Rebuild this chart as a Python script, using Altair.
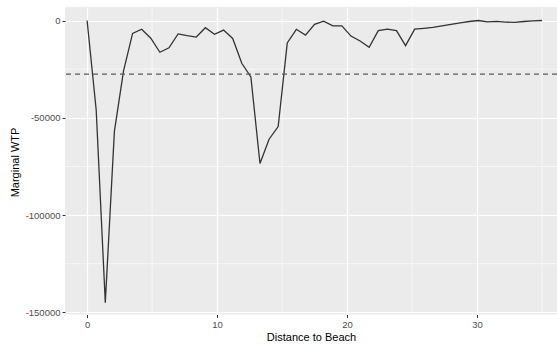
import altair as alt
import pandas as pd

distance = [round(i * 0.7, 1) for i in range(51)]
wtp = [0, -46000, -145000, -57000, -26000, -6600, -4500, -9100, -16300, -14000,
       -6900, -7800, -8500, -3700, -7100, -4900, -9200, -22000, -29000, -73500,
       -61000, -54500, -11500, -4500, -7500, -2000, -300, -2700, -2700, -8000,
       -10500, -13800, -5200, -4400, -5200, -12900, -4400, -4000, -3500, -2700,
       -2000, -1200, -500, 0, -700, -400, -800, -1000, -500, -200, 0]
mean_wtp = [-27500]
x_minor = [5, 15, 25, 35]
y_minor = [-25000, -75000, -125000]
x_major = [0, 10, 20, 30]
y_major = [0, -50000, -100000, -150000]

df = pd.DataFrame({"d": distance, "w": wtp})

xs = alt.Scale(domain=[-1.7, 36.15], nice=False, zero=False)
ys = alt.Scale(domain=[-151100, 6950], nice=False, zero=False)

minor_x = alt.Chart(pd.DataFrame({"v": x_minor})).mark_rule(color="white", strokeWidth=0.6).encode(
    x=alt.X("v:Q", scale=xs))
minor_y = alt.Chart(pd.DataFrame({"v": y_minor})).mark_rule(color="white", strokeWidth=0.6).encode(
    y=alt.Y("v:Q", scale=ys))

line = alt.Chart(df).mark_line(color="#333333", strokeWidth=1.3).encode(
    x=alt.X("d:Q", scale=xs, title="Distance to Beach",
            axis=alt.Axis(values=x_major, grid=True, gridColor="white", gridWidth=1.2,
                          tickColor="#333333", tickSize=3, tickWidth=1, domain=False,
                          labelColor="#4D4D4D", labelFontSize=9.5, labelPadding=2,
                          labelFont="Liberation Sans", titleFont="Liberation Sans",
                          titleFontSize=11, titleFontWeight="normal", titleColor="black",
                          titleY=22.5, titleBaseline="middle")),
    y=alt.Y("w:Q", scale=ys, title="Marginal WTP",
            axis=alt.Axis(values=y_major, grid=True, gridColor="white", gridWidth=1.2,
                          tickColor="#333333", tickSize=3, tickWidth=1, domain=False,
                          labelColor="#4D4D4D", labelFontSize=9.5, labelPadding=2,
                          labelExpr="'' + datum.value",
                          labelFont="Liberation Sans", titleFont="Liberation Sans",
                          titleFontSize=11, titleFontWeight="normal", titleColor="black",
                          titleX=-50, titleY=155, titleAngle=270, titleBaseline="middle",
                          titleAlign="center")),
)

hline = alt.Chart(pd.DataFrame({"m": mean_wtp})).mark_rule(
    color="#5a5a5a", strokeWidth=1.3, strokeDash=[5, 4]).encode(y=alt.Y("m:Q", scale=ys))

chart = alt.layer(minor_x, minor_y, line, hline).properties(
    width=492, height=307.5,
    autosize=alt.AutoSizeParams(type="none"),
    padding={"left": 65, "top": 7, "right": 0, "bottom": 29.5},
    background="white",
).configure_view(fill="#EBEBEB", stroke=None)

chart.save("out.html", embed_options={"renderer": "svg", "actions": False})
